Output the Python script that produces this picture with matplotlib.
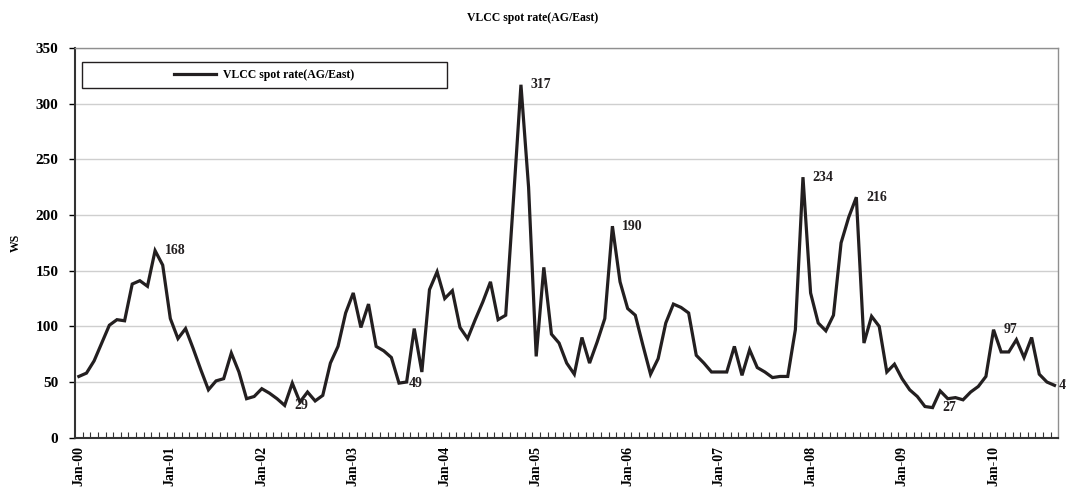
import numpy as np
import matplotlib
matplotlib.use("Agg")
import matplotlib.pyplot as plt
import matplotlib.patches as pat

plt.rcParams['font.family'] = ['Liberation Serif', 'DejaVu Serif']
plt.rcParams['font.weight'] = 'bold'

# monthly WS, Jan-00 .. Sep-10
ws = [55, 58, 69, 85, 101, 106, 105, 138, 141, 136, 168, 155,
      107, 89, 98, 80, 61, 43, 51, 53, 76, 59, 35, 37,
      44, 40, 35, 29, 49, 32, 41, 33, 38, 67, 82, 112,
      130, 99, 120, 82, 78, 72, 49, 50, 98, 59, 133, 149,
      125, 132, 99, 89, 106, 122, 140, 106, 110, 212, 317, 225,
      73, 153, 93, 85, 67, 57, 90, 67, 86, 107, 190, 140,
      116, 110, 83, 57, 71, 103, 120, 117, 112, 74, 67, 59,
      59, 59, 82, 56, 79, 63, 59, 54, 55, 55, 97, 234,
      130, 103, 96, 110, 175, 198, 216, 85, 109, 100, 59, 66,
      53, 43, 37, 28, 27, 42, 35, 36, 34, 41, 46, 55,
      97, 77, 77, 88, 72, 90, 57, 50, 47]
years = list(range(0, 11))
year_labels = ["Jan-{0:02d}".format(y) for y in years]
labelled = [10, 27, 42, 58, 70, 95, 102, 112, 120, 128]
series_name = "VLCC spot rate(AG/East)"

n = len(ws)
x = np.arange(n)

fig = plt.figure(figsize=(10.66, 4.91), dpi=100)
ax = fig.add_axes([0.0704, 0.1086, 0.9224, 0.7936])

line, = ax.plot(x, ws, color='#231f20', lw=2.3, solid_joinstyle='miter')

for i in labelled:
    dx = 3 if i == n - 1 else 7
    ax.annotate(str(ws[i]), (x[i], ws[i]), xytext=(dx, 0), textcoords='offset points',
                ha='left', va='center', fontsize=10, fontweight='bold', color='#231f20',
                annotation_clip=False)

ax.set_xlim(-0.5, n - 0.5)
ax.set_ylim(0, 350)
ax.set_yticks(np.arange(0, 351, 50))
ax.tick_params(axis='y', direction='out', length=4, width=1, labelsize=11, pad=8)
ax.yaxis.grid(True, color='#cfcfcf', lw=1)
ax.set_axisbelow(True)

ax.set_xticks([12 * y for y in years])
ax.set_xticklabels(year_labels, rotation=90, fontsize=10)
ax.tick_params(axis='x', which='major', length=0, pad=6)
ax.set_xticks(np.arange(0.5, n - 1, 1), minor=True)
ax.tick_params(axis='x', which='minor', direction='in', length=4, width=0.8, color='#333333')

ax.set_ylabel("WS", fontsize=8.5, fontweight='bold', labelpad=10)
fig.suptitle(series_name, fontsize=8.5, fontweight='bold', y=0.975)

for s in ['top', 'right']:
    ax.spines[s].set_color('#8f8f8f')
    ax.spines[s].set_linewidth(1)
for s in ['left', 'bottom']:
    ax.spines[s].set_color('#333333')
    ax.spines[s].set_linewidth(1.5)

# legend box
ax.add_patch(pat.Rectangle((0.007, 0.897), 0.371, 0.067, transform=ax.transAxes,
                           fill=True, facecolor='white', edgecolor='#231f20', lw=1, zorder=5))
leg = ax.legend([line], [series_name], loc='center', bbox_to_anchor=(0.1925, 0.9305),
                frameon=False, fontsize=8.5, handlelength=3.6, handletextpad=0.6)
leg.set_zorder(6)

plt.savefig("out.png", dpi=100)
plt.close()
